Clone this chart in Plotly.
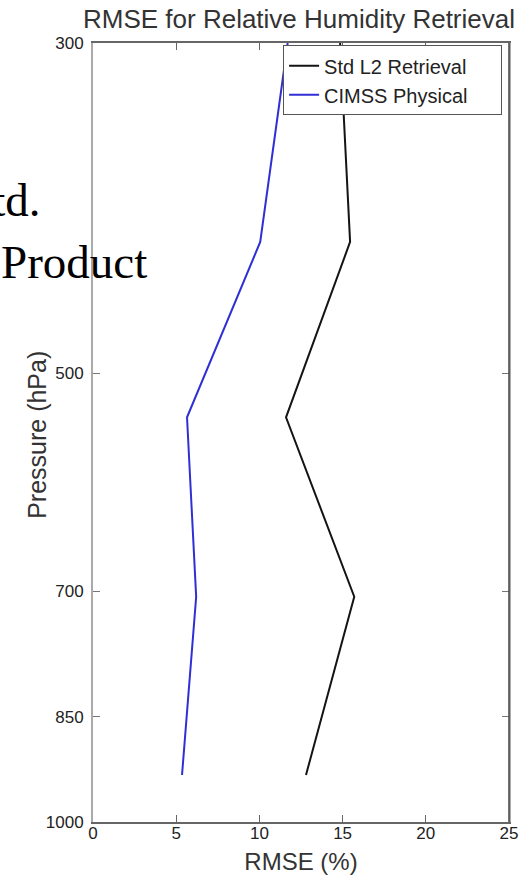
import plotly.graph_objects as go

# Data
pressure_hpa = [300, 408, 535, 706, 930]
std_l2_rmse = [14.85, 15.45, 11.6, 15.7, 12.8]
cimss_rmse = [11.7, 10.05, 5.65, 6.2, 5.35]

x_ticks = [0, 5, 10, 15, 20, 25]
y_ticks = [300, 500, 700, 850, 1000]

series_names = ["Std L2 Retrieval", "CIMSS Physical"]
title_text = "RMSE for Relative Humidity Retrieval"
x_title = "RMSE (%)"
y_title = "Pressure (hPa)"

NBSP = "\u00a0"

fig = go.Figure()
fig.add_trace(go.Scatter(x=std_l2_rmse, y=pressure_hpa, mode="lines",
                         name=series_names[0] + NBSP * 5,
                         line=dict(color="#141414", width=2)))
fig.add_trace(go.Scatter(x=cimss_rmse, y=pressure_hpa, mode="lines",
                         name=series_names[1] + NBSP * 5,
                         line=dict(color="#2f2fd6", width=2)))

font_fam = "Liberation Sans, Arial, sans-serif"

fig.update_layout(
    width=524, height=886,
    margin=dict(l=93, r=15, t=43, b=64),
    paper_bgcolor="white", plot_bgcolor="white",
    title=dict(text=title_text, x=299 / 524, xanchor="center",
               y=1 - 19 / 886, yanchor="middle", yref="container",
               font=dict(family=font_fam, size=26, color="#333")),
    showlegend=True,
    legend=dict(x=0.457, xanchor="left", y=0.997, yanchor="top",
                bgcolor="white", bordercolor="#555", borderwidth=1,
                font=dict(family=font_fam, size=20, color="#222"),
                tracegroupgap=0, itemwidth=30),
    xaxis=dict(range=[0, 25], tickvals=x_ticks, ticktext=[str(v) for v in x_ticks],
               showgrid=False, zeroline=False,
               showline=True, linecolor="#666", linewidth=1.5, mirror="allticks",
               ticks="inside", ticklen=7, tickcolor="#666", tickwidth=1,
               ticklabelstandoff=-5,
               tickfont=dict(family=font_fam, size=17, color="#222"),
               title=dict(text=x_title, standoff=11,
                          font=dict(family=font_fam, size=24, color="#333")),
               automargin=False),
    yaxis=dict(type="log", range=[3, 2.4771212547], tickvals=y_ticks,
               ticktext=[str(v) for v in y_ticks],
               showgrid=False, zeroline=False,
               showline=True, linecolor="#aaa", linewidth=2, mirror="allticks",
               ticks="inside", ticklen=7, tickcolor="#777", tickwidth=1,
               ticklabelstandoff=4,
               tickfont=dict(family=font_fam, size=17, color="#222"),
               automargin=False),
)

# y-axis title placed explicitly
fig.add_annotation(text=y_title, xref="paper", yref="paper", x=-0.1346, y=0.497,
                   xanchor="center", yanchor="middle", textangle=-90,
                   showarrow=False, font=dict(family=font_fam, size=25, color="#333"))

# right frame edge darker, as in the reference
fig.add_shape(type="line", xref="paper", yref="paper", x0=1, x1=1, y0=0, y1=1,
              line=dict(color="#444", width=1.5))

# slide text partially visible behind the chart
serif = "Liberation Serif, Times New Roman, serif"
fig.add_annotation(text="Std.", xref="paper", yref="paper", x=-0.122, y=0.7985,
                   xanchor="right", yanchor="middle", showarrow=False,
                   font=dict(family=serif, size=47, color="black"))
fig.add_annotation(text="Product", xref="paper", yref="paper", x=0.135, y=0.7189,
                   xanchor="right", yanchor="middle", showarrow=False,
                   font=dict(family=serif, size=47, color="black"))

fig.write_html("out.html", config={"displayModeBar": False},
               post_script="document.body.style.margin='0px';")
